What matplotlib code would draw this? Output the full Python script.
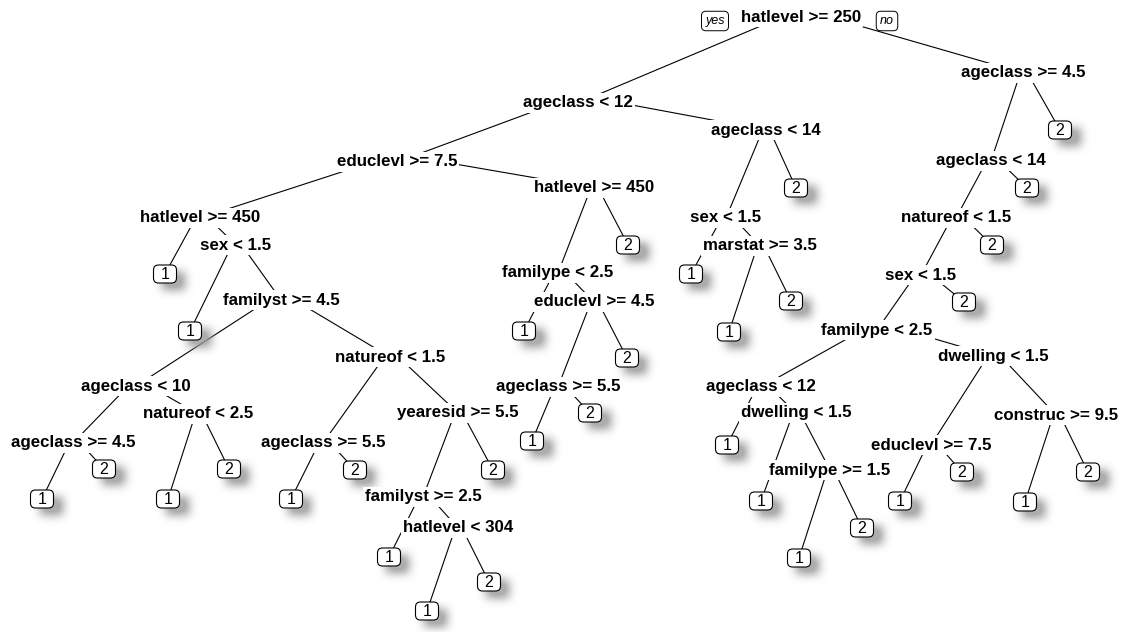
import numpy as np
import matplotlib.pyplot as plt
from matplotlib.patches import FancyBboxPatch

plt.rcParams['font.family'] = ['Liberation Sans', 'DejaVu Sans']

W, H = 1121, 632

# split rule at each internal node (rpart numbering: children of n are 2n and 2n+1)
splits = {
    1: "hatlevel >= 250",
    2: "ageclass < 12",
    3: "ageclass >= 4.5",
    4: "educlevl >= 7.5",
    5: "ageclass < 14",
    6: "ageclass < 14",
    8: "hatlevel >= 450",
    9: "hatlevel >= 450",
    10: "sex < 1.5",
    12: "natureof < 1.5",
    17: "sex < 1.5",
    18: "familype < 2.5",
    21: "marstat >= 3.5",
    24: "sex < 1.5",
    35: "familyst >= 4.5",
    37: "educlevl >= 4.5",
    48: "familype < 2.5",
    70: "ageclass < 10",
    71: "natureof < 1.5",
    74: "ageclass >= 5.5",
    96: "ageclass < 12",
    97: "dwelling < 1.5",
    140: "ageclass >= 4.5",
    141: "natureof < 2.5",
    142: "ageclass >= 5.5",
    143: "yearesid >= 5.5",
    193: "dwelling < 1.5",
    194: "educlevl >= 7.5",
    195: "construc >= 9.5",
    286: "familyst >= 2.5",
    387: "familype >= 1.5",
    573: "hatlevel < 304",
}

# predicted class at each leaf
leaves = {
    7: "2", 11: "2", 13: "2", 16: "1", 19: "2", 20: "1", 25: "2",
    34: "1", 36: "1", 42: "1", 43: "2", 49: "2", 75: "2",
    148: "1", 149: "2", 192: "1", 280: "1", 281: "2", 282: "1",
    283: "2", 284: "1", 285: "2", 287: "2", 386: "1", 388: "1",
    389: "2", 390: "1", 391: "2", 572: "1", 774: "1", 775: "2",
    1146: "1", 1147: "2",
}

# label centres on the canvas, pixels from the top-left corner
layout = {
    1: (801, 17), 2: (578, 103), 3: (1023, 73), 4: (397, 162),
    5: (766, 130), 6: (991, 161), 7: (1060, 130), 8: (200, 218),
    9: (594, 188), 10: (726, 218), 11: (796, 188), 12: (956, 218),
    13: (1027, 188), 16: (165, 274), 17: (236, 245), 18: (558, 273),
    19: (628, 245), 20: (691, 274), 21: (760, 246), 24: (921, 275),
    25: (992, 245), 34: (190, 331), 35: (281, 300), 36: (524, 331),
    37: (594, 302), 42: (729, 332), 43: (791, 301), 48: (877, 330),
    49: (964, 302), 70: (136, 386), 71: (390, 357), 74: (558, 387),
    75: (627, 358), 96: (761, 387), 97: (993, 356), 140: (73, 443),
    141: (198, 414), 142: (323, 443), 143: (458, 413), 148: (532, 441),
    149: (590, 413), 192: (727, 445), 193: (796, 413), 194: (931, 445),
    195: (1056, 415), 280: (42, 499), 281: (104, 469), 282: (168, 499),
    283: (229, 469), 284: (291, 499), 285: (355, 470), 286: (423, 497),
    287: (493, 470), 386: (761, 501), 387: (830, 470), 388: (900, 501),
    389: (962, 472), 390: (1025, 502), 391: (1088, 472), 572: (389, 557),
    573: (458, 528), 774: (799, 558), 775: (862, 528), 1146: (427, 611),
    1147: (489, 582),
}

BOX_W, BOX_H = 23, 18

fig = plt.figure(figsize=(W / 100, H / 100), dpi=100)
ax = fig.add_axes([0, 0, 1, 1])

# branches: from just above the parent's label to the child's centre
for n, (cx, cy) in layout.items():
    if n == 1:
        continue
    px, py = layout[n // 2]
    ax.plot([px, cx], [py - 8, cy], color='black', lw=0.8, zorder=1,
            solid_capstyle='butt')

# soft drop shadows behind the leaf boxes
mask = np.zeros((H, W))
for n in leaves:
    x, y = layout[n]
    x0 = int(round(x - BOX_W / 2 + 9))
    y0 = int(round(y - BOX_H / 2 + 7))
    mask[y0:y0 + BOX_H, x0:x0 + BOX_W] = 1.0
kern = np.ones(9) / 9
for _ in range(3):
    mask = np.apply_along_axis(lambda r: np.convolve(r, kern, mode='same'), 1, mask)
    mask = np.apply_along_axis(lambda c: np.convolve(c, kern, mode='same'), 0, mask)
shadow = np.zeros((H, W, 4))
shadow[..., :3] = 0.6
shadow[..., 3] = np.clip(mask * 1.3, 0, 1) * 0.8
ax.imshow(shadow, extent=(0, W, H, 0), zorder=2, interpolation='bilinear')

# leaf boxes with the predicted class
for n, cls in leaves.items():
    x, y = layout[n]
    box = FancyBboxPatch((x - BOX_W / 2, y - BOX_H / 2), BOX_W, BOX_H,
                         boxstyle="round,pad=0,rounding_size=5",
                         facecolor='white', edgecolor='black', lw=0.8, zorder=4)
    ax.add_patch(box)
    ax.text(x, y + 0.5, cls, ha='center', va='center', fontsize=11.5, zorder=5)

# split labels, on white so the branches stop short of the text
for n, rule in splits.items():
    x, y = layout[n]
    ax.text(x, y, rule, ha='center', va='center', fontsize=12.2,
            fontweight='bold', zorder=6,
            bbox=dict(facecolor='white', edgecolor='none', pad=1.5))

# yes / no tags either side of the root split
rx, ry = layout[1]
for dx, tag in [(-86, "yes"), (86, "no")]:
    ax.text(rx + dx, ry + 4, tag, ha='center', va='center', fontsize=9,
            style='italic', zorder=6,
            bbox=dict(boxstyle='round,pad=0.3,rounding_size=0.35',
                      facecolor='white', edgecolor='black', lw=0.7))

ax.set_xlim(0, W)
ax.set_ylim(H, 0)
ax.set_aspect('auto')
ax.axis('off')

plt.savefig("out.png", dpi=100)
